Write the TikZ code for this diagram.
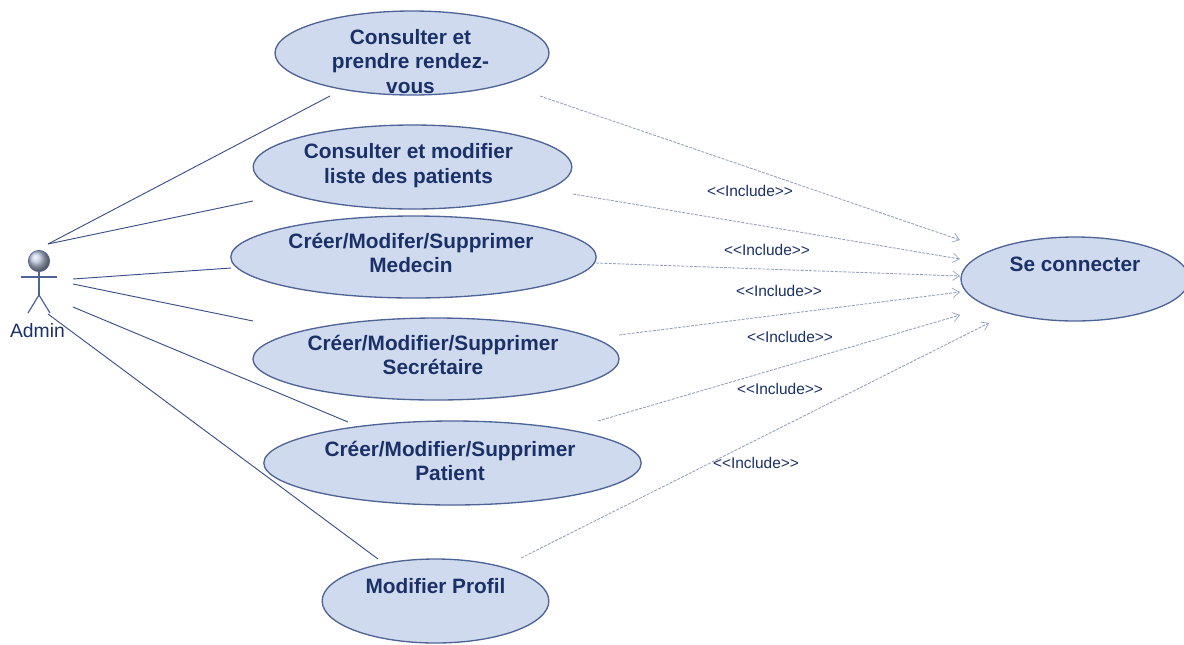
\documentclass[tikz,border=0pt]{standalone}
\usepackage{fontspec}
\setmainfont{Liberation Sans}
\usetikzlibrary{shapes.geometric,arrows.meta}
\definecolor{ucfill}{HTML}{D0DAEE}
\definecolor{ucline}{HTML}{4F6496}
\definecolor{uctext}{HTML}{1A3068}
\definecolor{assoc}{HTML}{3A5088}
\definecolor{incl}{HTML}{929EBC}
\tikzset{
 usecase/.style={ellipse,draw=ucline,fill=ucfill,line width=1pt,inner sep=0pt,outer sep=0pt},
 uclabel/.style={font=\bfseries\fontsize{15.6}{18.6}\selectfont,text=uctext,align=center,inner sep=0pt},
 inclabel/.style={font=\fontsize{11.6}{13}\selectfont,text=uctext,inner sep=0pt},
 assocline/.style={draw=assoc,line width=0.7pt},
 includeline/.style={draw=incl,line width=0.65pt,dash pattern=on 2.2pt off 1pt,-{Straight Barb[length=5pt,width=7pt,line width=0.5pt]}},
 actorline/.style={draw=ucline,line width=0.9pt},
}
\begin{document}
\begin{tikzpicture}[x=0.75pt,y=-0.75pt]
\useasboundingbox (0,0) rectangle (1184,644);
\clip (0,0) rectangle (1184,644);
% use cases
\node[usecase,minimum width=205.5pt,minimum height=63pt] (uc1) at (412,53) {};
\node[usecase,minimum width=239pt,minimum height=63pt] (uc2) at (412.5,167) {};
\node[usecase,minimum width=274pt,minimum height=61.5pt] (uc3) at (413.5,257) {};
\node[usecase,minimum width=274.5pt,minimum height=61.5pt] (uc4) at (436,359) {};
\node[usecase,minimum width=283pt,minimum height=63pt] (uc5) at (452.5,463) {};
\node[usecase,minimum width=170pt,minimum height=63pt] (uc6) at (435.5,601) {};
\node[usecase,minimum width=171pt,minimum height=63pt] (conn) at (1075,279) {};
% use-case labels
\node[uclabel] (t1) at (410.5,61.5) {Consulter et\\prendre rendez-\\vous};
\node[uclabel] (t2) at (408.5,165.5) {Consulter et modifier\\liste des patients};
\node[uclabel] (t3) at (411,253) {Créer/Modifer/Supprimer\\Medecin};
\node[uclabel] (t4) at (433,355) {Créer/Modifier/Supprimer\\Secrétaire};
\node[uclabel] (t5) at (450,461) {Créer/Modifier/Supprimer\\Patient};
\node[uclabel] (t6) at (435.5,586) {Modifier Profil};
\node[uclabel] (t7) at (1075,264) {Se connecter};
% actor
\node[circle,draw=ucline,line width=0.5pt,minimum size=16pt,inner sep=0pt,
      shading=ball,ball color=ucfill!88!uctext] (head) at (39,261) {};
\coordinate (hip) at (39,295);
\coordinate (armL) at (21,277);
\coordinate (armR) at (57,277);
\coordinate (legL) at (28,313);
\coordinate (legR) at (50,313);
\draw[actorline] (head.south) -- (hip);
\draw[actorline] (armL) -- (armR);
\draw[actorline] (legL) -- (hip) -- (legR);
\node[font=\fontsize{14.5}{16}\selectfont,text=uctext,inner sep=0pt] (admin) at (37.5,331) {Admin};
% association ends
\coordinate (a1) at (48,244);
\coordinate (a3) at (73,279);
\coordinate (a4) at (73,284);
\coordinate (a5) at (73,307);
\coordinate (a6) at (48,314);
\coordinate (b1) at (330,96);
\coordinate (b2) at (253,201);
\coordinate (b3) at (231,268);
\coordinate (b4) at (253,321);
\coordinate (b5) at (348,422);
\coordinate (b6) at (378,559);
\draw[assocline] (a1) -- (b1);
\draw[assocline] (a1) -- (b2);
\draw[assocline] (a3) -- (b3);
\draw[assocline] (a4) -- (b4);
\draw[assocline] (a5) -- (b5);
\draw[assocline] (a6) -- (b6);
% include ends
\coordinate (s1) at (540,96);
\coordinate (s2) at (573,194);
\coordinate (s3) at (596,263);
\coordinate (s4) at (619,335);
\coordinate (s5) at (598,421);
\coordinate (s6) at (521,558);
\coordinate (e1) at (960,240);
\coordinate (e2) at (960,259);
\coordinate (e3) at (960,276);
\coordinate (e4) at (960,292);
\coordinate (e5) at (960,315);
\coordinate (e6) at (989,323);
\draw[includeline] (s1) -- (e1);
\draw[includeline] (s2) -- (e2);
\draw[includeline] (s3) -- (e3);
\draw[includeline] (s4) -- (e4);
\draw[includeline] (s5) -- (e5);
\draw[includeline] (s6) -- (e6);
% include labels
\node[inclabel] (i1) at (750,191) {<{}<Include>{}>};
\node[inclabel] (i2) at (767,250) {<{}<Include>{}>};
\node[inclabel] (i3) at (779,291) {<{}<Include>{}>};
\node[inclabel] (i4) at (790,337) {<{}<Include>{}>};
\node[inclabel] (i5) at (780,389) {<{}<Include>{}>};
\node[inclabel] (i6) at (756,463) {<{}<Include>{}>};
\end{tikzpicture}
\end{document}
